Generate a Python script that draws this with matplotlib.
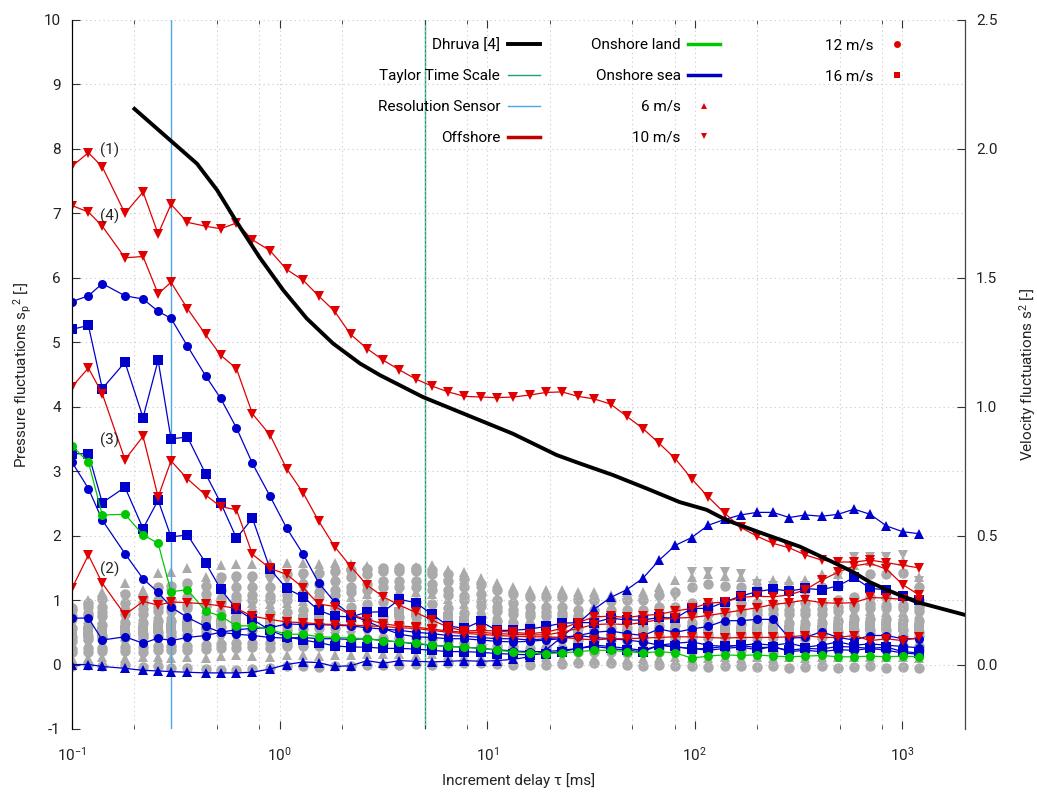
import matplotlib
matplotlib.use('Agg')
import matplotlib.pyplot as plt
from matplotlib.lines import Line2D
from matplotlib.ticker import FixedLocator, NullFormatter, FormatStrFormatter

plt.rcParams['font.family'] = ['Roboto', 'DejaVu Sans']
plt.rcParams['mathtext.fontset'] = 'custom'
plt.rcParams['mathtext.rm'] = 'Roboto'
plt.rcParams['mathtext.it'] = 'Roboto:italic'
plt.rcParams['axes.unicode_minus'] = False

# increment delays [ms]
tau = [0.1, 0.12, 0.14, 0.18, 0.22, 0.26, 0.3, 0.36, 0.44, 0.52,
       0.62, 0.74, 0.9, 1.08, 1.3, 1.54, 1.84, 2.2, 2.64, 3.16,
       3.78, 4.52, 5.42, 6.48, 7.76, 9.3, 11.1, 13.3, 16, 19.1,
       22.9, 27.4, 32.8, 39.3, 47, 56.3, 67.4, 80.7, 96.6, 116,
       139, 166, 199, 238, 285, 341, 408, 489, 585, 700,
       838, 1003, 1200]

# offshore, 10 m/s (red)
off_1 = [7.73, 7.94, 7.72, 7.0, 7.33, 6.68, 7.14, 6.86, 6.80, 6.76,
         6.85, 6.59, 6.42, 6.13, 5.96, 5.72, 5.48, 5.12, 4.90, 4.72,
         4.57, 4.43, 4.32, 4.23, 4.16, 4.15, 4.14, 4.15, 4.18, 4.22,
         4.23, 4.16, 4.12, 4.04, 3.85, 3.66, 3.43, 3.19, 2.88, 2.60,
         2.35, 2.13, 1.99, 1.88, 1.81, 1.70, 1.62, 1.59, 1.59, 1.62,
         1.58, 1.54, 1.50]
off_4 = [7.12, 7.02, 6.80, 6.31, 6.33, 5.75, 5.93, 5.52, 5.12, 4.80,
         4.59, 3.89, 3.56, 3.04, 2.66, 2.23, 1.83, 1.52, 1.23, 1.05,
         0.92, 0.81, 0.69, 0.58, 0.52, 0.53, 0.52, 0.50, 0.48, 0.50,
         0.56, 0.65, 0.74, 0.75, 0.73, 0.76, 0.78, 0.83, 0.87, 0.95,
         0.97, 1.04, 1.06, 1.05, 1.08, 1.16, 1.31, 1.43, 1.53, 1.57,
         1.48, 1.24, 1.08]
off_3 = [4.31, 4.60, 4.20, 3.18, 3.54, 2.60, 3.16, 2.88, 2.63, 2.45,
         2.40, 1.71, 1.49, 1.40, 1.19, 0.94, 0.90, 0.77, 0.70, 0.63,
         0.60, 0.58, 0.55, 0.52, 0.50, 0.50, 0.48, 0.47, 0.46, 0.46,
         0.50, 0.56, 0.62, 0.63, 0.62, 0.65, 0.70, 0.72, 0.73, 0.76,
         0.80, 0.84, 0.88, 0.93, 0.96, 1.00, 0.96, 0.95, 0.96, 1.04,
         1.03, 1.01, 1.00]
off_2 = [1.18, 1.70, 1.26, 0.77, 0.98, 0.92, 0.97, 0.96, 0.94, 0.91,
         0.87, 0.75, 0.70, 0.66, 0.65, 0.63, 0.62, 0.61, 0.60, 0.59,
         0.57, 0.56, 0.53, 0.50, 0.48, 0.47, 0.45, 0.44, 0.43, 0.43,
         0.42, 0.40, 0.38, 0.40, 0.40, 0.41, 0.42, 0.43, 0.43, 0.42,
         0.41, 0.42, 0.42, 0.42, 0.43, 0.45, 0.42, 0.42, 0.45, 0.37,
         0.40, 0.37, 0.42]

# onshore sea (blue)
sea_12a = [5.63, 5.72, 5.91, 5.72, 5.67, 5.48, 5.37, 4.94, 4.48, 4.13,
           3.67, 3.12, 2.61, 2.12, 1.71, 1.27, 0.97, 0.77, 0.67, 0.56,
           0.47, 0.43, 0.42, 0.40, 0.40, 0.38, 0.36, 0.35, 0.36, 0.38,
           0.40, 0.45, 0.50, 0.52, 0.48, 0.45, 0.55, 0.50, 0.55, 0.59,
           0.68, 0.68, 0.70, 0.70, 0.41, 0.42, 0.51, 0.42, 0.38, 0.45,
           0.45, 0.40, 0.40]
sea_16a = [5.20, 5.26, 4.28, 4.69, 3.83, 4.72, 3.50, 3.53, 2.96, 2.51,
           1.96, 2.27, 1.48, 1.18, 1.05, 0.84, 0.75, 0.74, 0.81, 0.82,
           1.01, 0.96, 0.78, 0.60, 0.56, 0.67, 0.53, 0.53, 0.55, 0.59,
           0.64, 0.65, 0.65, 0.72, 0.69, 0.69, 0.73, 0.72, 0.87, 0.87,
           0.97, 1.06, 1.13, 1.17, 1.14, 1.18, 1.16, 1.22, 1.35, 1.18,
           1.16, 1.07, 1.00]
sea_16b = [3.27, 3.27, 2.51, 2.75, 2.11, 2.55, 1.98, 2.01, 1.58, 1.17,
           0.86, 0.70, 0.53, 0.43, 0.38, 0.34, 0.29, 0.27, 0.27, 0.25,
           0.25, 0.24, 0.22, 0.20, 0.20, 0.19, 0.17, 0.16, 0.15, 0.17,
           0.20, 0.25, 0.28, 0.25, 0.22, 0.20, 0.30, 0.28, 0.24, 0.25,
           0.28, 0.30, 0.26, 0.27, 0.22, 0.25, 0.24, 0.28, 0.27, 0.25,
           0.27, 0.20, 0.18]
sea_12b = [3.14, 2.73, 2.24, 1.72, 1.33, 1.12, 0.89, 0.73, 0.59, 0.50,
           0.47, 0.45, 0.42, 0.41, 0.42, 0.40, 0.40, 0.39, 0.40, 0.37,
           0.35, 0.32, 0.30, 0.28, 0.27, 0.25, 0.23, 0.21, 0.20, 0.20,
           0.22, 0.25, 0.30, 0.28, 0.25, 0.22, 0.30, 0.27, 0.25, 0.22,
           0.25, 0.27, 0.23, 0.28, 0.20, 0.22, 0.20, 0.23, 0.22, 0.25,
           0.22, 0.18, 0.16]
sea_12c = [0.72, 0.72, 0.38, 0.43, 0.33, 0.41, 0.37, 0.42, 0.45, 0.50,
           0.54, 0.56, 0.57, 0.63, 0.62, 0.62, 0.61, 0.60, 0.57, 0.55,
           0.53, 0.50, 0.48, 0.45, 0.44, 0.42, 0.40, 0.40, 0.38, 0.40,
           0.42, 0.45, 0.42, 0.40, 0.38, 0.35, 0.30, 0.33, 0.35, 0.30,
           0.28, 0.30, 0.32, 0.30, 0.33, 0.27, 0.30, 0.35, 0.30, 0.32,
           0.30, 0.28, 0.26]
sea_6 = [0.0, 0.0, -0.03, -0.06, -0.09, -0.10, -0.11, -0.12, -0.13, -0.13,
         -0.13, -0.12, -0.07, 0.0, 0.04, 0.03, -0.03, -0.02, 0.06, 0.02,
         0.06, 0.05, 0.04, 0.05, 0.06, 0.05, 0.06, 0.08, 0.12, 0.22,
         0.43, 0.64, 0.86, 1.04, 1.16, 1.34, 1.62, 1.85, 1.97, 2.16,
         2.25, 2.32, 2.36, 2.36, 2.28, 2.32, 2.30, 2.33, 2.41, 2.33,
         2.15, 2.06, 2.03]

# onshore land (green)
land_12 = [3.39, 3.14, 2.32, 2.33, 2.01, 1.88, 1.13, 1.16, 0.83, 0.75,
           0.60, 0.60, 0.54, 0.47, 0.47, 0.43, 0.42, 0.41, 0.40, 0.37,
           0.35, 0.33, 0.30, 0.28, 0.27, 0.25, 0.22, 0.20, 0.18, 0.17,
           0.18, 0.20, 0.22, 0.22, 0.20, 0.18, 0.20, 0.18, 0.10, 0.13,
           0.15, 0.14, 0.15, 0.13, 0.12, 0.13, 0.14, 0.12, 0.12, 0.13,
           0.12, 0.13, 0.12]

# all other measurements (grey)
gray_1 = [-0.02, 0.0, -0.03, -0.01, -0.04, -0.03, -0.05, -0.06, -0.07, -0.08,
          -0.08, -0.07, -0.05, -0.03, -0.02, -0.04, -0.03, -0.02, -0.01, 0.0,
          0.0, 0.01, 0.0, 0.02, 0.03, 0.02, 0.01, 0.0, -0.01, 0.0,
          0.01, 0.02, 0.03, 0.02, 0.0, -0.02, -0.01, -0.03, -0.02, -0.04,
          -0.03, -0.02, -0.04, -0.03, -0.05, -0.04, -0.03, -0.05, -0.04, -0.03,
          -0.05, -0.04, -0.05]
gray_2 = [0.1, 0.1, 0.12, 0.1, 0.11, 0.12, 0.1, 0.12, 0.1, 0.13,
          0.14, 0.13, 0.12, 0.14, 0.15, 0.13, 0.14, 0.15, 0.16, 0.16,
          0.17, 0.15, 0.16, 0.14, 0.13, 0.12, 0.11, 0.1, 0.1, 0.11,
          0.1, 0.09, 0.1, 0.1, 0.09, 0.1, 0.1, 0.11, 0.1, 0.1,
          0.11, 0.1, 0.12, 0.1, 0.11, 0.1, 0.12, 0.11, 0.12, 0.11,
          0.12, 0.11, 0.1]
gray_3 = [0.19, 0.2, 0.21, 0.21, 0.2, 0.22, 0.23, 0.23, 0.24, 0.26,
          0.26, 0.27, 0.26, 0.28, 0.28, 0.29, 0.29, 0.3, 0.31, 0.32,
          0.33, 0.32, 0.31, 0.29, 0.27, 0.25, 0.22, 0.21, 0.2, 0.21,
          0.2, 0.19, 0.2, 0.19, 0.18, 0.19, 0.2, 0.21, 0.21, 0.22,
          0.21, 0.22, 0.21, 0.2, 0.21, 0.22, 0.21, 0.22, 0.23, 0.24,
          0.23, 0.22, 0.22]
gray_4 = [0.28, 0.3, 0.31, 0.31, 0.32, 0.33, 0.34, 0.35, 0.36, 0.38,
          0.4, 0.41, 0.4, 0.4, 0.42, 0.41, 0.43, 0.45, 0.47, 0.48,
          0.49, 0.48, 0.46, 0.43, 0.4, 0.36, 0.33, 0.31, 0.3, 0.3,
          0.31, 0.28, 0.29, 0.28, 0.28, 0.27, 0.3, 0.31, 0.31, 0.32,
          0.31, 0.3, 0.31, 0.32, 0.31, 0.3, 0.32, 0.33, 0.35, 0.34,
          0.35, 0.36, 0.33]
gray_5 = [0.37, 0.4, 0.41, 0.42, 0.43, 0.44, 0.45, 0.46, 0.49, 0.51,
          0.53, 0.54, 0.53, 0.54, 0.55, 0.56, 0.57, 0.6, 0.62, 0.64,
          0.65, 0.64, 0.62, 0.57, 0.53, 0.48, 0.44, 0.42, 0.4, 0.41,
          0.4, 0.38, 0.37, 0.38, 0.37, 0.36, 0.4, 0.41, 0.42, 0.43,
          0.42, 0.41, 0.43, 0.42, 0.42, 0.41, 0.43, 0.44, 0.46, 0.47,
          0.46, 0.45, 0.44]
gray_6 = [0.48, 0.5, 0.51, 0.53, 0.54, 0.56, 0.56, 0.59, 0.62, 0.64,
          0.67, 0.68, 0.67, 0.68, 0.7, 0.71, 0.73, 0.76, 0.78, 0.81,
          0.82, 0.81, 0.78, 0.73, 0.67, 0.62, 0.56, 0.53, 0.5, 0.51,
          0.5, 0.48, 0.47, 0.48, 0.48, 0.47, 0.5, 0.51, 0.53, 0.54,
          0.53, 0.52, 0.53, 0.54, 0.53, 0.52, 0.54, 0.56, 0.59, 0.6,
          0.59, 0.58, 0.56]
gray_7 = [0.57, 0.6, 0.61, 0.64, 0.65, 0.67, 0.68, 0.7, 0.74, 0.77,
          0.8, 0.81, 0.8, 0.81, 0.84, 0.85, 0.87, 0.9, 0.94, 0.97,
          0.98, 0.97, 0.94, 0.87, 0.8, 0.74, 0.67, 0.64, 0.6, 0.61,
          0.6, 0.57, 0.58, 0.57, 0.56, 0.57, 0.6, 0.61, 0.64, 0.65,
          0.64, 0.63, 0.64, 0.65, 0.64, 0.63, 0.65, 0.67, 0.7, 0.71,
          0.7, 0.69, 0.67]
gray_8 = [0.66, 0.7, 0.71, 0.74, 0.75, 0.78, 0.79, 0.82, 0.86, 0.9,
          0.94, 0.95, 0.94, 0.95, 0.98, 0.99, 1.01, 1.05, 1.09, 1.13,
          1.14, 1.13, 1.09, 1.01, 0.94, 0.86, 0.78, 0.74, 0.7, 0.71,
          0.7, 0.66, 0.67, 0.66, 0.66, 0.67, 0.7, 0.71, 0.74, 0.75,
          0.74, 0.73, 0.74, 0.75, 0.74, 0.73, 0.75, 0.78, 0.82, 0.83,
          0.82, 0.81, 0.78]
gray_9 = [0.76, 0.8, 0.81, 0.85, 0.86, 0.89, 0.9, 0.93, 0.98, 1.02,
          1.07, 1.08, 1.07, 1.08, 1.11, 1.12, 1.16, 1.2, 1.25, 1.29,
          1.3, 1.29, 1.25, 1.16, 1.07, 0.98, 0.89, 0.85, 0.8, 0.81,
          0.8, 0.76, 0.77, 0.76, 0.76, 0.77, 0.8, 0.81, 0.85, 0.86,
          0.85, 0.84, 0.85, 0.86, 0.85, 0.84, 0.86, 0.89, 0.93, 0.94,
          0.93, 0.92, 0.89]
gray_10 = [0.85, 0.9, 0.9, 0.95, 0.95, 1.0, 1.0, 1.05, 1.1, 1.15,
           1.2, 1.2, 1.2, 1.2, 1.25, 1.25, 1.3, 1.35, 1.4, 1.45,
           1.45, 1.45, 1.4, 1.3, 1.2, 1.1, 1.0, 0.95, 0.9, 0.9,
           0.9, 0.85, 0.85, 0.85, 0.85, 0.85, 0.9, 0.9, 0.95, 0.95,
           0.95, 0.95, 0.95, 0.95, 0.95, 0.95, 0.95, 1.0, 1.05, 1.05,
           1.05, 1.05, 1.0]
gray_11 = [0.88, 0.95, 1.02, 1.1, 1.05, 1.2, 1.22, 1.27, 1.22, 1.35,
           1.38, 1.38, 1.4, 1.4, 1.42, 1.42, 1.45, 1.47, 1.48, 1.5,
           1.5, 1.5, 1.47, 1.4, 1.33, 1.25, 1.15, 1.1, 1.05, 1.05,
           1.05, 1.0, 1.0, 0.98, 1.0, 1.0, 1.08, 1.12, 1.2, 1.25,
           1.22, 1.2, 1.17, 1.15, 1.15, 1.15, 1.2, 1.22, 1.38, 1.4,
           1.4, 1.42, 1.2]
gray_12 = [0.92, 1.0, 1.13, 1.27, 1.15, 1.42, 1.44, 1.49, 1.35, 1.54,
           1.56, 1.56, 1.58, 1.57, 1.57, 1.56, 1.57, 1.56, 1.53, 1.5,
           1.52, 1.52, 1.54, 1.47, 1.43, 1.34, 1.26, 1.21, 1.16, 1.16,
           1.16, 1.13, 1.13, 1.08, 1.13, 1.13, 1.21, 1.31, 1.36, 1.4,
           1.38, 1.36, 1.31, 1.31, 1.31, 1.31, 1.41, 1.41, 1.55, 1.6,
           1.62, 1.6, 1.36]
gray_13 = [0.8, 0.86, 0.98, 1.05, 1.0, 1.12, 1.1, 1.15, 1.15, 1.25,
           1.28, 1.28, 1.3, 1.3, 1.32, 1.33, 1.36, 1.4, 1.42, 1.43,
           1.42, 1.42, 1.35, 1.25, 1.18, 1.12, 1.1, 1.05, 1.0, 0.98,
           0.98, 0.95, 0.93, 0.93, 0.95, 0.95, 1.0, 1.05, 1.43, 1.44,
           1.44, 1.4, 1.25, 1.22, 1.2, 1.22, 1.3, 1.35, 1.67, 1.67,
           1.67, 1.7, 1.3]
gray_14 = [0.43, 0.45, 0.45, 0.48, 0.48, 0.5, 0.5, 0.53, 0.55, 0.58,
           0.6, 0.6, 0.6, 0.6, 0.63, 0.63, 0.65, 0.68, 0.7, 0.73,
           0.73, 0.73, 0.7, 0.65, 0.6, 0.55, 0.5, 0.48, 0.45, 0.45,
           0.45, 0.43, 0.43, 0.43, 0.43, 0.43, 0.45, 0.45, 0.48, 0.48,
           0.48, 0.48, 0.48, 0.48, 0.48, 0.48, 0.48, 0.5, 0.53, 0.53,
           0.53, 0.53, 0.5]
gray_15 = [0.71, 0.75, 0.75, 0.79, 0.79, 0.83, 0.83, 0.87, 0.91, 0.95,
           1.0, 1.0, 1.0, 1.0, 1.04, 1.04, 1.08, 1.12, 1.16, 1.2,
           1.2, 1.2, 1.16, 1.08, 1.0, 0.91, 0.83, 0.79, 0.75, 0.75,
           0.75, 0.71, 0.71, 0.71, 0.71, 0.71, 0.75, 0.75, 0.79, 0.79,
           0.79, 0.79, 0.79, 0.79, 0.79, 0.79, 0.79, 0.83, 0.87, 0.87,
           0.87, 0.87, 0.83]
gray_16 = [0.24, 0.25, 0.25, 0.27, 0.27, 0.28, 0.28, 0.29, 0.31, 0.32,
           0.34, 0.34, 0.34, 0.34, 0.35, 0.35, 0.36, 0.38, 0.39, 0.41,
           0.41, 0.41, 0.39, 0.36, 0.34, 0.31, 0.28, 0.27, 0.25, 0.25,
           0.25, 0.24, 0.24, 0.24, 0.24, 0.24, 0.25, 0.25, 0.27, 0.27,
           0.27, 0.27, 0.27, 0.27, 0.27, 0.27, 0.27, 0.28, 0.29, 0.29,
           0.29, 0.29, 0.28]

# Dhruva [4] reference curve
dhruva_tau = [0.2, 0.4, 0.5, 0.62, 0.8, 1.04, 1.35, 1.81, 2.44, 3.04, 4.9, 8.0, 13.3,
              21.6, 27.9, 40.3, 58.7, 84.5, 114, 142, 205, 320, 461, 575, 695, 839,
              1170, 2000]
dhruva_val = [8.62, 7.77, 7.36, 6.87, 6.32, 5.81, 5.37, 4.98, 4.67, 4.49, 4.15, 3.87, 3.58,
              3.25, 3.12, 2.94, 2.73, 2.52, 2.40, 2.24, 2.05, 1.83, 1.59, 1.44, 1.28, 1.16,
              0.97, 0.77]

taylor_scale = 5.0
sensor_resolution = 0.3

RED = '#e00000'
BLUE = '#0000cc'
GREEN = '#00c800'
GREY = '#aaaaaa'
TEAL = '#1aa07c'
LIGHTBLUE = '#4aa8e6'

fig = plt.figure(figsize=(10.37, 7.94), dpi=100)
ax = fig.add_axes([0.0694, 0.0819, 0.8611, 0.8930])

grays = [(gray_1, 'o'), (gray_2, '^'), (gray_3, 'o'), (gray_16, 'o'), (gray_4, 'v'),
         (gray_5, 'o'), (gray_14, 'o'), (gray_6, 's'), (gray_7, 'o'), (gray_8, '^'),
         (gray_15, 'o'), (gray_9, 'o'), (gray_10, 'o'), (gray_11, 'o'), (gray_12, '^'),
         (gray_13, 'v')]
for vals, mk in grays:
    ax.plot(tau, vals, linestyle='none', marker=mk, ms=7.5, mew=0, color=GREY, zorder=1)

ax.axvline(sensor_resolution, color=LIGHTBLUE, lw=1, zorder=1.5)
ax.axvline(taylor_scale, color=TEAL, lw=1, zorder=1.5)

for vals, mk in [(sea_12a, 'o'), (sea_16a, 's'), (sea_16b, 's'), (sea_12b, 'o'),
                 (sea_12c, 'o'), (sea_6, '^')]:
    ax.plot(tau, vals, '-', color=BLUE, lw=0.9, marker=mk, ms=6.5, mew=0, zorder=3)
ax.plot(tau, land_12, '-', color=GREEN, lw=0.9, marker='o', ms=6.5, mew=0, zorder=3)
for vals in [off_1, off_4, off_3, off_2]:
    ax.plot(tau, vals, '-', color=RED, lw=0.9, marker='v', ms=6.5, mew=0, zorder=3)

ax.plot(dhruva_tau, dhruva_val, '-', color='black', lw=2.8, zorder=4)

for txt, x, y in [('(1)', 0.136, 7.98), ('(4)', 0.136, 6.95), ('(3)', 0.136, 3.48), ('(2)', 0.136, 1.47)]:
    ax.text(x, y, txt, fontsize=11, color='#222222', va='center', ha='left', zorder=5)

ax.set_xscale('log')
ax.set_xlim(0.1, 2000)
ax.set_ylim(-1, 10)
ax.set_yticks(range(-1, 11))
minors = [m * 10.0 ** e for e in range(-1, 4) for m in (2, 5, 8)]
ax.xaxis.set_minor_locator(FixedLocator(minors))
ax.xaxis.set_minor_formatter(NullFormatter())
ax.grid(which='major', color='#c8c8c8', lw=0.8, linestyle=(0, (1, 3)))
ax.grid(which='minor', axis='x', color='#c8c8c8', lw=0.8, linestyle=(0, (1, 3)))
ax.tick_params(which='both', direction='in', top=True, right=False, labelsize=11,
               colors='#333333', labelcolor='#222222')
ax.tick_params(which='major', length=6)
ax.tick_params(which='minor', length=3)
ax.tick_params(axis='x', which='major', pad=12)
ax.tick_params(axis='y', pad=8)
for s in ['top', 'bottom']:
    ax.spines[s].set_visible(False)
ax.spines['left'].set_color('#444444')

ax.set_xlabel('Increment delay τ [ms]', fontsize=11, color='#222222')
ax.set_ylabel(r'Pressure fluctuations s$_\mathregular{p}$$^\mathregular{2}$ [-]', fontsize=11, color='#222222')
ax.xaxis.set_label_coords(0.5, -0.062)
ax.yaxis.set_label_coords(-0.043, 0.5)

ax2 = ax.twinx()
ax2.set_ylim(-0.25, 2.5)
ax2.set_yticks([0.0, 0.5, 1.0, 1.5, 2.0, 2.5])
ax2.yaxis.set_major_formatter(FormatStrFormatter('%.1f'))
ax2.tick_params(direction='in', length=6, pad=8, labelsize=11, colors='#333333', labelcolor='#222222')
for s in ['top', 'bottom']:
    ax2.spines[s].set_visible(False)
ax2.spines['right'].set_color('#444444')
ax2.set_ylabel(r'Velocity fluctuations s$^\mathregular{2}$ [-]', fontsize=11, color='#222222')
ax2.yaxis.set_label_coords(1.058, 0.5)

leg_kw = dict(loc='upper right', markerfirst=False, frameon=False, handlelength=2.1,
              handletextpad=0.5, labelspacing=1.1, borderaxespad=0, borderpad=0, fontsize=11)
col1 = [Line2D([], [], color='black', lw=2.8), Line2D([], [], color=TEAL, lw=1),
        Line2D([], [], color=LIGHTBLUE, lw=1), Line2D([], [], color='#c00000', lw=2.5)]
col2 = [Line2D([], [], color=GREEN, lw=2.5), Line2D([], [], color='#0000c0', lw=2.5),
        Line2D([], [], ls='none', marker='^', color=RED, ms=5, mew=0),
        Line2D([], [], ls='none', marker='v', color=RED, ms=5, mew=0)]
col3 = [Line2D([], [], ls='none', marker='o', color=RED, ms=5, mew=0),
        Line2D([], [], ls='none', marker='s', color=RED, ms=5, mew=0)]
leg1 = ax2.legend(col1, ['Dhruva [4]', 'Taylor Time Scale', 'Resolution Sensor', 'Offshore'],
                  bbox_to_anchor=(0.524, 0.974), **leg_kw)
ax2.add_artist(leg1)
leg2 = ax2.legend(col2, ['Onshore land', 'Onshore sea', '6 m/s', '10 m/s'],
                  bbox_to_anchor=(0.726, 0.974), **leg_kw)
ax2.add_artist(leg2)
leg3 = ax2.legend(col3, ['12 m/s', '16 m/s'], bbox_to_anchor=(0.942, 0.974), **leg_kw)

fig.savefig('out.png', dpi=100)
